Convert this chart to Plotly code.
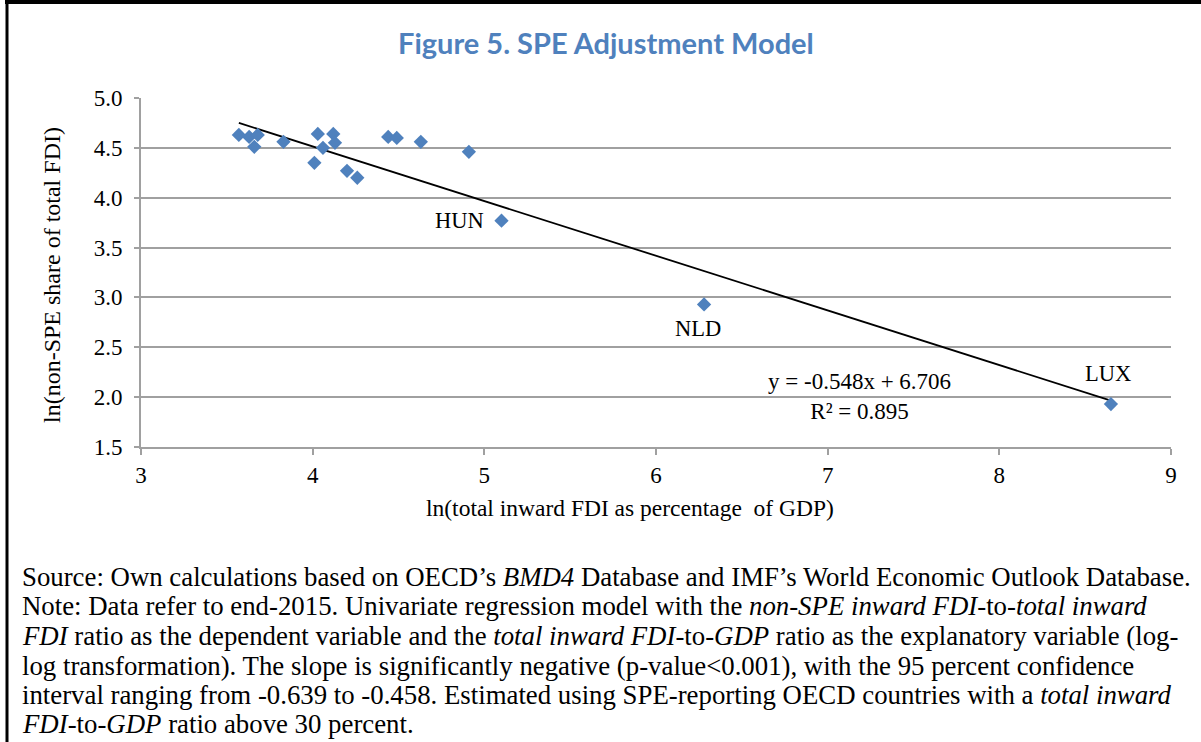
import plotly.graph_objects as go

# ---- data ----
x_vals = [3.57, 3.63, 3.68, 3.66, 3.83, 4.03, 4.12, 4.13, 4.06, 4.01, 4.20, 4.26,
          4.44, 4.49, 4.63, 4.91, 5.10, 6.28, 8.65]
y_vals = [4.63, 4.61, 4.63, 4.51, 4.56, 4.64, 4.64, 4.55, 4.50, 4.35, 4.27, 4.20,
          4.61, 4.60, 4.56, 4.46, 3.77, 2.93, 1.93]
point_labels = ["", "", "", "", "", "", "", "", "", "", "", "",
                "", "", "", "", "HUN", "NLD", "LUX"]
slope = -0.548
intercept = 6.706
r_squared = 0.895
x_ticks = [3, 4, 5, 6, 7, 8, 9]
y_ticks = [1.5, 2.0, 2.5, 3.0, 3.5, 4.0, 4.5, 5.0]

title_text = "Figure 5. SPE Adjustment Model"
x_title = "ln(total inward FDI as percentage  of GDP)"
y_title = "ln(non-SPE share of total FDI)"
footer_lines = [
    "Source: Own calculations based on OECD’s <i>BMD4</i> Database and IMF’s World Economic Outlook Database.",
    "Note: Data refer to end-2015. Univariate regression model with the <i>non-SPE inward FDI</i>-to-<i>total inward</i>",
    "<i>FDI</i> ratio as the dependent variable and the <i>total inward FDI</i>-to-<i>GDP</i> ratio as the explanatory variable (log-",
    "log transformation). The slope is significantly negative (p-value&lt;0.001), with the 95 percent confidence",
    "interval ranging from -0.639 to -0.458. Estimated using SPE-reporting OECD countries with a <i>total inward</i>",
    "<i>FDI</i>-to-<i>GDP</i> ratio above 30 percent.",
]

# ---- layout geometry (pixels) ----
W, H = 1201, 742
L, R, T, B = 141, 30, 98, 295
PW, PH = W - L - R, H - T - B


def px(p):
    return (p - L) / PW


def py(p):
    return (H - B - p) / PH


SERIF = "Liberation Serif, Times New Roman, serif"
BLUE = "#4F81BD"
GRID = "#A0A0A0"

fig = go.Figure()

# trend line from fitted coefficients over the data range
x_line = [min(x_vals), max(x_vals)]
y_line = [slope * v + intercept for v in x_line]
fig.add_trace(go.Scatter(x=x_line, y=y_line, mode="lines",
                         line=dict(color="black", width=1.8),
                         hoverinfo="skip", showlegend=False))

fig.add_trace(go.Scatter(x=x_vals, y=y_vals, mode="markers",
                         marker=dict(symbol="diamond", size=11, color=BLUE),
                         showlegend=False))

annotations = []
# point labels
offsets = {"HUN": dict(xanchor="right", yanchor="middle", xshift=-16, yshift=0),
           "NLD": dict(xanchor="center", yanchor="middle", xshift=-6, yshift=-24),
           "LUX": dict(xanchor="center", yanchor="middle", xshift=-3, yshift=31)}
for xv, yv, lab in zip(x_vals, y_vals, point_labels):
    if lab:
        annotations.append(dict(x=xv, y=yv, xref="x", yref="y", text=lab,
                                showarrow=False, font=dict(family=SERIF, size=22.5, color="black"),
                                **offsets[lab]))

# equation
annotations.append(dict(x=px(859), y=py(396), xref="paper", yref="paper",
                        text=f"y = {slope:.3f}x + {intercept:.3f}<br>R² = {r_squared:.3f}",
                        showarrow=False, align="center", xanchor="center", yanchor="middle",
                        font=dict(family=SERIF, size=23, color="black")))

# title
annotations.append(dict(x=px(606), y=py(42), xref="paper", yref="paper", text=f"<b>{title_text}</b>",
                        showarrow=False, xanchor="center", yanchor="middle",
                        font=dict(family="Lato, Open Sans, sans-serif", size=29, color=BLUE)))

# axis titles
annotations.append(dict(x=px(630), y=py(508), xref="paper", yref="paper", text=x_title,
                        showarrow=False, xanchor="center", yanchor="middle",
                        font=dict(family=SERIF, size=23.5, color="black")))
annotations.append(dict(x=px(52), y=py(275), xref="paper", yref="paper", text=y_title,
                        showarrow=False, xanchor="center", yanchor="middle", textangle=-90,
                        font=dict(family=SERIF, size=24, color="black")))

# footer
footer_y = [577, 606, 636, 666, 695, 724]
for line, yy in zip(footer_lines, footer_y):
    annotations.append(dict(x=px(20), y=py(yy), xref="paper", yref="paper", text=line,
                            showarrow=False, xanchor="left", yanchor="middle", align="left",
                            font=dict(family=SERIF, size=26.8, color="black")))

shapes = [
    dict(type="line", xref="paper", yref="paper", x0=px(5), x1=px(1201), y0=py(2), y1=py(2),
         line=dict(color="black", width=4)),
    dict(type="line", xref="paper", yref="paper", x0=px(7), x1=px(7), y0=py(1), y1=py(742),
         line=dict(color="black", width=3)),
]

fig.update_layout(
    width=W, height=H,
    margin=dict(l=L, r=R, t=T, b=B),
    paper_bgcolor="white", plot_bgcolor="white",
    annotations=annotations, shapes=shapes,
    showlegend=False,
    xaxis=dict(range=[3, 9], tickvals=x_ticks, ticktext=[str(v) for v in x_ticks],
               showgrid=False, zeroline=False, showline=True, linecolor=GRID, linewidth=2,
               ticks="outside", ticklen=6, tickcolor=GRID, tickwidth=2,
               ticklabelstandoff=0,
               tickfont=dict(family=SERIF, size=23, color="black")),
    yaxis=dict(range=[1.5, 5.0], tickvals=y_ticks, ticktext=[f"{v:.1f}" for v in y_ticks],
               showgrid=True, gridcolor=GRID, gridwidth=2, zeroline=False,
               showline=True, linecolor=GRID, linewidth=2,
               ticks="outside", ticklen=5, tickcolor=GRID, tickwidth=2,
               ticklabelstandoff=7,
               tickfont=dict(family=SERIF, size=23, color="black")),
)

fig.write_html("out.html", config={"displayModeBar": False},
               post_script="document.body.style.margin='0';document.body.style.overflow='hidden';")
